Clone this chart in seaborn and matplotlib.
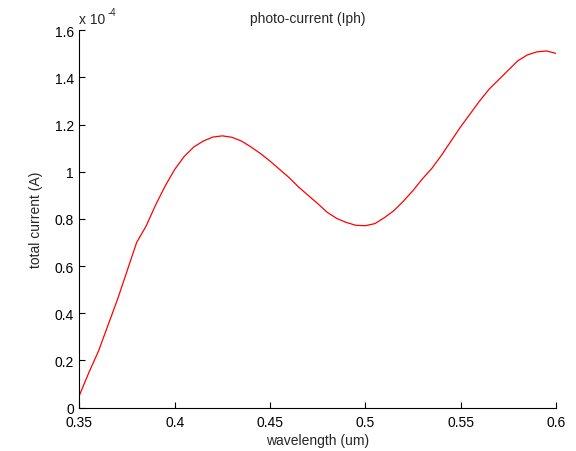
import numpy as np
import pandas as pd
import seaborn as sns
import matplotlib
matplotlib.use('Agg')
import matplotlib.pyplot as plt
from matplotlib.ticker import FuncFormatter, MultipleLocator

wavelength = [0.350, 0.355, 0.360, 0.365, 0.370, 0.375, 0.380, 0.385, 0.390, 0.395,
              0.400, 0.405, 0.410, 0.415, 0.420, 0.425, 0.430, 0.435, 0.440, 0.445,
              0.450, 0.455, 0.460, 0.465, 0.470, 0.475, 0.480, 0.485, 0.490, 0.495,
              0.500, 0.505, 0.510, 0.515, 0.520, 0.525, 0.530, 0.535, 0.540, 0.545,
              0.550, 0.555, 0.560, 0.565, 0.570, 0.575, 0.580, 0.585, 0.590, 0.595,
              0.600]
# total current in units of 1e-4 A
current = [0.053, 0.150, 0.240, 0.350, 0.460, 0.580, 0.700, 0.770, 0.860, 0.940,
           1.010, 1.065, 1.105, 1.130, 1.147, 1.152, 1.146, 1.130, 1.105, 1.077,
           1.045, 1.010, 0.975, 0.935, 0.900, 0.865, 0.828, 0.802, 0.785, 0.773,
           0.771, 0.780, 0.805, 0.835, 0.875, 0.920, 0.970, 1.015, 1.070, 1.130,
           1.190, 1.245, 1.300, 1.350, 1.390, 1.430, 1.470, 1.495, 1.508, 1.512,
           1.502]

df = pd.DataFrame({'wavelength': wavelength, 'current': current})

sns.set_style('ticks')
plt.rcParams['font.family'] = ['Liberation Sans', 'DejaVu Sans']
plt.rcParams['font.size'] = 10

fig = plt.figure(figsize=(5.76, 4.52), dpi=100)
ax = fig.add_axes([0.138, 0.096, 0.827, 0.835])
sns.lineplot(data=df, x='wavelength', y='current', color='red', linewidth=0.9, ax=ax)

ax.set_xlim(0.35, 0.6)
ax.set_ylim(0, 1.6)
ax.xaxis.set_major_locator(MultipleLocator(0.05))
ax.yaxis.set_major_locator(MultipleLocator(0.2))
fmt = FuncFormatter(lambda v, p: '%g' % round(v, 4))
ax.xaxis.set_major_formatter(fmt)
ax.yaxis.set_major_formatter(fmt)
ax.tick_params(direction='in', length=4, width=0.8, labelsize=10, colors='black')
ax.tick_params(axis='x', pad=5)
ax.tick_params(axis='y', pad=4)
for lab in ax.get_yticklabels():
    lab.set_va('center_baseline')
for s in ['top', 'right']:
    ax.spines[s].set_visible(False)
for s in ['left', 'bottom']:
    ax.spines[s].set_linewidth(0.8)
    ax.spines[s].set_color('black')

ax.set_xlabel('wavelength (um)', fontsize=10, labelpad=3)
ax.set_ylabel('total current (A)', fontsize=10, labelpad=8)
ax.set_title('photo-current (Iph)', fontsize=10, x=0.48, pad=6)
ax.text(0.0, 1.012, 'x 10', transform=ax.transAxes, fontsize=10, ha='left', va='bottom')
ax.text(0.058, 1.035, '-4', transform=ax.transAxes, fontsize=7, ha='left', va='bottom')

fig.savefig('out.png', dpi=100)
